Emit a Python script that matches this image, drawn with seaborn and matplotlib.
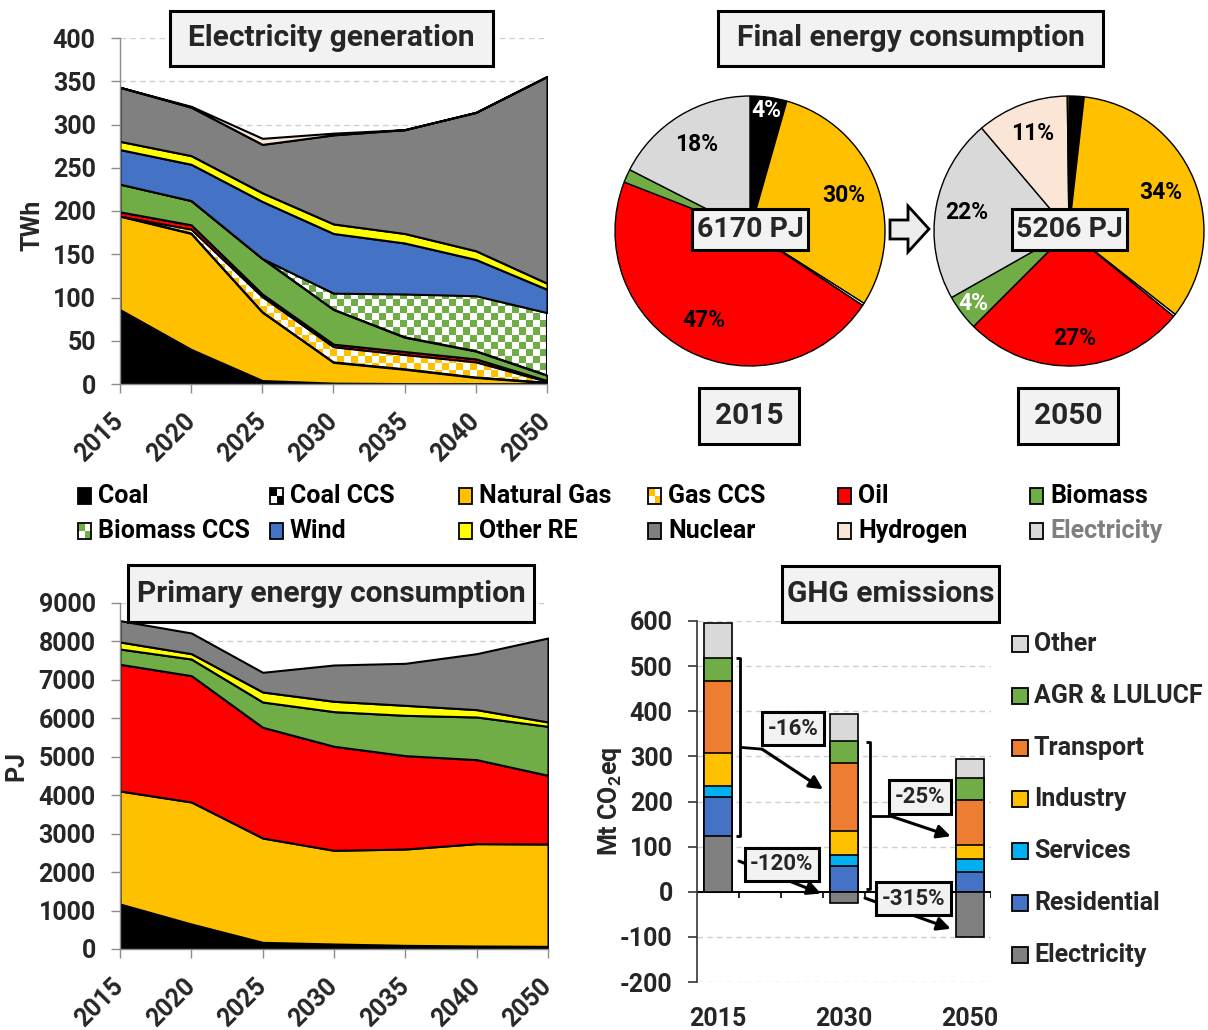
import numpy as np
import pandas as pd
import matplotlib
matplotlib.use('Agg')
import matplotlib.pyplot as plt
import seaborn as sns
from matplotlib.patches import Rectangle, Polygon
from matplotlib.colors import ListedColormap

# ---------------- data ----------------
years = ['2015', '2020', '2025', '2030', '2035', '2040', '2050']

# electricity generation (TWh)
elec_coal = [86, 40, 4, 1, 0.5, 0.5, 0.5]
elec_coal_ccs = [0, 0, 0, 0, 0, 0, 0]
elec_gas = [108, 134, 79, 24, 16.5, 7, 1]
elec_gas_ccs = [0, 5, 18, 18, 17, 18, 1.5]
elec_oil = [5, 5, 3, 3, 3.5, 3.5, 1]
elec_biomass = [32, 28, 41, 40, 16.5, 9, 6]
elec_biomass_ccs = [0, 0, 0, 19, 50, 64, 72.5]
elec_wind = [40, 42, 66, 69, 59, 42, 27]
elec_other_re = [9.5, 10, 10, 11, 11, 10, 7]
elec_nuclear = [62.5, 56, 56, 103, 120, 160, 239]
elec_hydrogen = [0, 1, 7, 2, 0, 0, 0]

# primary energy consumption (PJ)
prim_coal = [1170, 650, 173, 130, 95, 78, 69]
prim_gas = [2940, 3174, 2714, 2437, 2506, 2662, 2662]
prim_oil = [3295, 3286, 2879, 2705, 2428, 2185, 1786]
prim_biomass = [398, 433, 659, 902, 1049, 1110, 1275]
prim_other_re = [183, 139, 260, 269, 260, 191, 113]
prim_nuclear = [555, 538, 512, 944, 1093, 1456, 2185]

# final energy consumption shares (%)
pie_2015_names = ['Coal', 'Natural Gas', 'Gas CCS', 'Oil', 'Biomass', 'Electricity']
pie_2015_share = [4.4, 29.6, 0.3, 46.6, 1.6, 17.5]
pie_2015_text = ['4%', '30%', '', '47%', '', '18%']
pie_2050_names = ['Coal', 'Natural Gas', 'Gas CCS', 'Oil', 'Biomass', 'Electricity', 'Hydrogen', 'Other RE']
pie_2050_share = [1.8, 33.8, 0.3, 26.6, 4.3, 22.0, 11.0, 0.2]
pie_2050_text = ['', '34%', '', '27%', '4%', '22%', '11%', '']
pie_totals = ['6170 PJ', '5206 PJ']
pie_years = ['2015', '2050']

# GHG emissions (Mt CO2eq)
ghg_years = ['2015', '2030', '2050']
ghg_electricity = [123, -24, -101]
ghg_residential = [86, 58, 44]
ghg_services = [25, 23, 29]
ghg_industry = [74, 53, 30]
ghg_transport = [158, 151, 100]
ghg_agr = [52, 49, 48]
ghg_other = [77, 59, 43]
ghg_changes = ['-16%', '-25%', '-120%', '-315%']

colors = {
    'Coal': '#000000', 'Coal CCS': '#000000', 'Natural Gas': '#FFC000',
    'Gas CCS': '#FFC000', 'Oil': '#FF0000', 'Biomass': '#70AD47',
    'Biomass CCS': '#70AD47', 'Wind': '#4472C4', 'Other RE': '#FFFF00',
    'Nuclear': '#808080', 'Hydrogen': '#FBE5D6', 'Electricity': '#D9D9D9',
}
ghg_colors = {
    'Electricity': '#808080', 'Residential': '#4472C4', 'Services': '#00B0F0',
    'Industry': '#FFC000', 'Transport': '#ED7D31', 'AGR & LULUCF': '#70AD47',
    'Other': '#D9D9D9',
}

# ---------------- style ----------------
sns.set_theme(style='white')
plt.rcParams['font.family'] = ['Roboto', 'DejaVu Sans']
plt.rcParams['font.weight'] = 'bold'
plt.rcParams['axes.unicode_minus'] = False
plt.rcParams['mathtext.fontset'] = 'custom'
plt.rcParams['mathtext.rm'] = 'Roboto:bold'
plt.rcParams['mathtext.bf'] = 'Roboto:bold'

W, H = 1208, 1030
fig = plt.figure(figsize=(W / 100, H / 100), dpi=100)
fig.patch.set_facecolor('white')

TICK = 18
AXC = '#8C8C8C'


def axes_px(x0, y0, x1, y1):
    return fig.add_axes([x0 / W, 1 - y1 / H, (x1 - x0) / W, (y1 - y0) / H])


def rect_px(x0, y0, x1, y1, **kw):
    r = Rectangle((x0 / W, 1 - y1 / H), (x1 - x0) / W, (y1 - y0) / H,
                  transform=fig.transFigure, **kw)
    fig.add_artist(r)
    return r


def title_box(x0, y0, x1, y1, s, size):
    rect_px(x0, y0, x1, y1, fc='#F2F2F2', ec='black', lw=2.2, zorder=5)
    fig.text((x0 + x1) / 2 / W, 1 - (y0 + y1) / 2 / H, s, ha='center',
             va='center', fontsize=size, fontweight='bold', zorder=6)


def style_area(ax, ymax, ystep, ylabel, label_xy):
    ax.set_xlim(0, 6)
    ax.set_ylim(0, ymax)
    ax.set_yticks(np.arange(0, ymax + 1, ystep))
    ax.set_xticks(range(len(years)))
    ax.set_xticklabels(years, rotation=45, ha='right', va='center',
                       rotation_mode='anchor')
    ax.tick_params(axis='both', which='major', direction='out', length=6.5,
                   color=AXC, width=1, labelsize=TICK, left=True, bottom=True)
    ax.tick_params(axis='y', pad=11)
    ax.tick_params(axis='x', pad=18)
    for lab in ax.get_xticklabels() + ax.get_yticklabels():
        lab.set_fontweight('bold')
    ax.spines['top'].set_visible(False)
    ax.spines['right'].set_visible(False)
    for s in ['left', 'bottom']:
        ax.spines[s].set_color(AXC)
        ax.spines[s].set_linewidth(1)
    ax.yaxis.grid(True, ls=(0, (4, 3)), color='#CFCFCF', lw=1)
    ax.set_axisbelow(True)
    ax.set_ylabel(ylabel, fontsize=18, fontweight='bold')
    ax.yaxis.set_label_coords(*label_xy)


def checker_fill(ax, poly, color, xmax, ymax, npx_w, npx_h, cell=7):
    poly.set_facecolor('none')
    nx, ny = int(npx_w / cell), int(npx_h / cell)
    arr = np.add.outer(np.arange(ny), np.arange(nx)) % 2
    im = ax.imshow(arr, cmap=ListedColormap([color, 'white']),
                   extent=(0, xmax, 0, ymax), aspect='auto',
                   interpolation='nearest', zorder=1.9)
    im.set_clip_path(poly.get_paths()[0], transform=ax.transData)


# ---------------- electricity generation ----------------
ax1 = axes_px(120, 38, 547, 384)
elec_names = ['Coal', 'Coal CCS', 'Natural Gas', 'Gas CCS', 'Oil', 'Biomass',
              'Biomass CCS', 'Wind', 'Other RE', 'Nuclear', 'Hydrogen']
elec_layers = [elec_coal, elec_coal_ccs, elec_gas, elec_gas_ccs, elec_oil,
               elec_biomass, elec_biomass_ccs, elec_wind, elec_other_re,
               elec_nuclear, elec_hydrogen]
polys = ax1.stackplot(range(len(years)), *elec_layers,
                      colors=[colors[n] for n in elec_names],
                      edgecolor='black', linewidth=1.5, zorder=2)
for name, poly in zip(elec_names, polys):
    if name in ('Gas CCS', 'Biomass CCS'):
        checker_fill(ax1, poly, colors[name], 6, 400, 427, 346)
style_area(ax1, 400, 50, 'TWh', (-0.176, 0.46))
ax1.set_xlim(0, 6)
ax1.set_ylim(0, 400)

# ---------------- primary energy ----------------
ax2 = axes_px(120, 603, 548, 949)
prim_names = ['Coal', 'Natural Gas', 'Oil', 'Biomass', 'Other RE', 'Nuclear']
prim_layers = [prim_coal, prim_gas, prim_oil, prim_biomass, prim_other_re, prim_nuclear]
ax2.stackplot(range(len(years)), *prim_layers,
              colors=[colors[n] for n in prim_names],
              edgecolor='black', linewidth=1.5, zorder=2)
style_area(ax2, 9000, 1000, 'PJ', (-0.215, 0.53))

# ---------------- pies ----------------
pie_specs = [
    (750, pie_2015_names, pie_2015_share, pie_2015_text,
     [0.9, 0.74, 0, 0.75, 0, 0.75], ['white', 'black', 'black', 'black', 'black', 'black']),
    (1069, pie_2050_names, pie_2050_share, pie_2050_text,
     [0, 0.74, 0, 0.8, 0.89, 0.77, 0.77, 0],
     ['black', 'black', 'black', 'black', 'white', 'black', 'black', 'black']),
]
R = 135
CY = 231
for cx, names, share, texts, radii, tcols in pie_specs:
    ax = axes_px(cx - R - 2, CY - R - 2, cx + R + 2, CY + R + 2)
    pie_cols = [('white' if n == 'Gas CCS' else colors[n]) for n in names]
    ax.pie(share, colors=pie_cols, startangle=90, counterclock=False, radius=1,
           wedgeprops=dict(edgecolor='black', linewidth=1.0))
    lim = (R + 2) / R
    ax.set_xlim(-lim, lim)
    ax.set_ylim(-lim, lim)
    cum = np.cumsum([0] + list(share))
    for i, t in enumerate(texts):
        if not t:
            continue
        ang = np.deg2rad(90 - 360 * (cum[i] + share[i] / 2) / 100)
        ax.text(radii[i] * np.cos(ang), radii[i] * np.sin(ang), t, ha='center',
                va='center', fontsize=16.5, fontweight='bold', color=tcols[i])

title_box(692, 209, 808, 250, pie_totals[0], 20.5)
title_box(1012, 209, 1127, 250, pie_totals[1], 20.5)
title_box(699, 388, 799, 444, pie_years[0], 21.5)
title_box(1018, 388, 1118, 444, pie_years[1], 21.5)

arrow_pts = [(890, 220), (908, 220), (908, 206), (929, 229), (908, 252), (908, 239), (890, 239)]
fig.add_artist(Polygon([(x / W, 1 - y / H) for x, y in arrow_pts], closed=True,
                       transform=fig.transFigure, fc='#EDEDED', ec='black', lw=2))

# ---------------- GHG emissions ----------------
ax3 = axes_px(697, 621, 991, 982)
slots = ['2015', 's1', 's2', '2030', 's3', 's4', '2050']
pos_base = np.maximum(np.array(ghg_electricity, dtype=float), 0)
ghg_stack = [('Residential', ghg_residential), ('Services', ghg_services),
             ('Industry', ghg_industry), ('Transport', ghg_transport),
             ('AGR & LULUCF', ghg_agr), ('Other', ghg_other)]
tops = pos_base.copy()
layers = []
for name, vals in ghg_stack:
    tops = tops + np.array(vals, dtype=float)
    layers.append((name, tops.copy()))
for name, top in reversed(layers):
    df = pd.DataFrame({'year': ghg_years, 'value': top})
    sns.barplot(data=df, x='year', y='value', order=slots, color=ghg_colors[name],
                saturation=1, width=0.65, edgecolor='black', linewidth=1.2,
                errorbar=None, ax=ax3, zorder=3)
df = pd.DataFrame({'year': ghg_years, 'value': ghg_electricity})
sns.barplot(data=df, x='year', y='value', order=slots, color=ghg_colors['Electricity'],
            saturation=1, width=0.65, edgecolor='black', linewidth=1.2,
            errorbar=None, ax=ax3, zorder=3)

ax3.set_xlim(-0.5, 6.5)
ax3.set_ylim(-200, 600)
ax3.set_yticks(np.arange(-200, 601, 100))
ax3.set_xticks([0, 3, 6])
ax3.set_xticklabels(ghg_years)
ax3.set_xlabel('')
ax3.set_ylabel('Mt CO$_\\mathbf{2}$eq', fontsize=18, fontweight='bold')
ax3.yaxis.set_label_coords(-0.25, 0.5)
ax3.tick_params(axis='y', direction='out', length=6.5, color='#333333', width=1.2,
                labelsize=TICK, left=True, pad=11)
ax3.tick_params(axis='x', length=0, pad=18, labelsize=TICK)
for lab in ax3.get_xticklabels() + ax3.get_yticklabels():
    lab.set_fontweight('bold')
for s in ['top', 'right', 'bottom']:
    ax3.spines[s].set_visible(False)
ax3.spines['left'].set_color('#333333')
ax3.spines['left'].set_linewidth(1.2)
ax3.yaxis.grid(True, ls=(0, (4, 3)), color='#CFCFCF', lw=1)
ax3.set_axisbelow(True)
ax3.axhline(0, color='black', lw=1.4, zorder=2)
ax3.vlines(np.arange(0.5, 7, 1), -14, 0, color='black', lw=1.2, zorder=2)

# brackets and arrows
bk = dict(color='black', lw=2, zorder=4, solid_capstyle='butt')
ax3.plot([0.42, 0.53, 0.53, 0.42], [518, 518, 123, 123], **bk)
ax3.plot([0.53, 1.05], [320, 316], **bk)
ax3.plot([3.52, 3.62, 3.62, 3.52], [332, 332, 5, 5], **bk)
ax3.plot([3.62, 4.1], [168, 168], **bk)
arr = dict(arrowstyle='-|>', lw=2.2, color='black', mutation_scale=20,
           shrinkA=0, shrinkB=0)
ax3.annotate('', xy=(2.5, 227), xytext=(1.05, 316), arrowprops=arr, zorder=4)
ax3.annotate('', xy=(5.54, 123), xytext=(4.1, 168), arrowprops=arr, zorder=4)
ax3.annotate('', xy=(2.45, -4), xytext=(0.5, 68), arrowprops=arr, zorder=4)
ax3.annotate('', xy=(5.54, -82), xytext=(3.5, -14), arrowprops=arr, zorder=4)
box = dict(boxstyle='square,pad=0.25', fc='#F2F2F2', ec='black', lw=2.2)
for (bx, by), t in zip([(1.79, 361), (4.81, 210), (1.52, 61), (4.65, -15)], ghg_changes):
    ax3.text(bx, by, t, ha='center', va='center', fontsize=16, fontweight='bold',
             bbox=box, zorder=6)

# GHG legend
ghg_leg = ['Other', 'AGR & LULUCF', 'Transport', 'Industry', 'Services',
           'Residential', 'Electricity']
for i, name in enumerate(ghg_leg):
    cy = 644 + i * 51.8
    rect_px(1012, cy - 8, 1028, cy + 8, fc=ghg_colors[name], ec='black', lw=1.3)
    fig.text(1034 / W, 1 - cy / H, name, ha='left', va='center', fontsize=18,
             fontweight='bold')

# ---------------- shared legend ----------------
leg_names = ['Coal', 'Coal CCS', 'Natural Gas', 'Gas CCS', 'Oil', 'Biomass',
             'Biomass CCS', 'Wind', 'Other RE', 'Nuclear', 'Hydrogen', 'Electricity']
col_x = [78, 270, 459, 648, 838, 1030]
row_y = [496, 531]
for i, name in enumerate(leg_names):
    px = col_x[i % 6]
    py = row_y[i // 6]
    x0, y0, x1, y1 = px, py - 8, px + 13, py + 8
    if 'CCS' in name:
        rect_px(x0, y0, x1, y1, fc='white', ec='none')
        xm, ym = (x0 + x1) / 2, (y0 + y1) / 2
        rect_px(x0, y0, xm, ym, fc=colors[name], ec='none')
        rect_px(xm, ym, x1, y1, fc=colors[name], ec='none')
        rect_px(x0, y0, x1, y1, fc='none', ec='black', lw=1.3)
    else:
        rect_px(x0, y0, x1, y1, fc=colors[name], ec='black', lw=1.3)
    fig.text((px + 20) / W, 1 - py / H, name, ha='left', va='center', fontsize=18,
             fontweight='bold', color='#7F7F7F' if name == 'Electricity' else 'black')

# ---------------- titles ----------------
title_box(170, 11, 493, 66, 'Electricity generation', 21.5)
title_box(718, 11, 1103, 66, 'Final energy consumption', 21.5)
title_box(128, 565, 534, 622, 'Primary energy consumption', 21.5)
title_box(782, 566, 999, 622, 'GHG emissions', 21.5)

fig.savefig('out.png', dpi=100)
